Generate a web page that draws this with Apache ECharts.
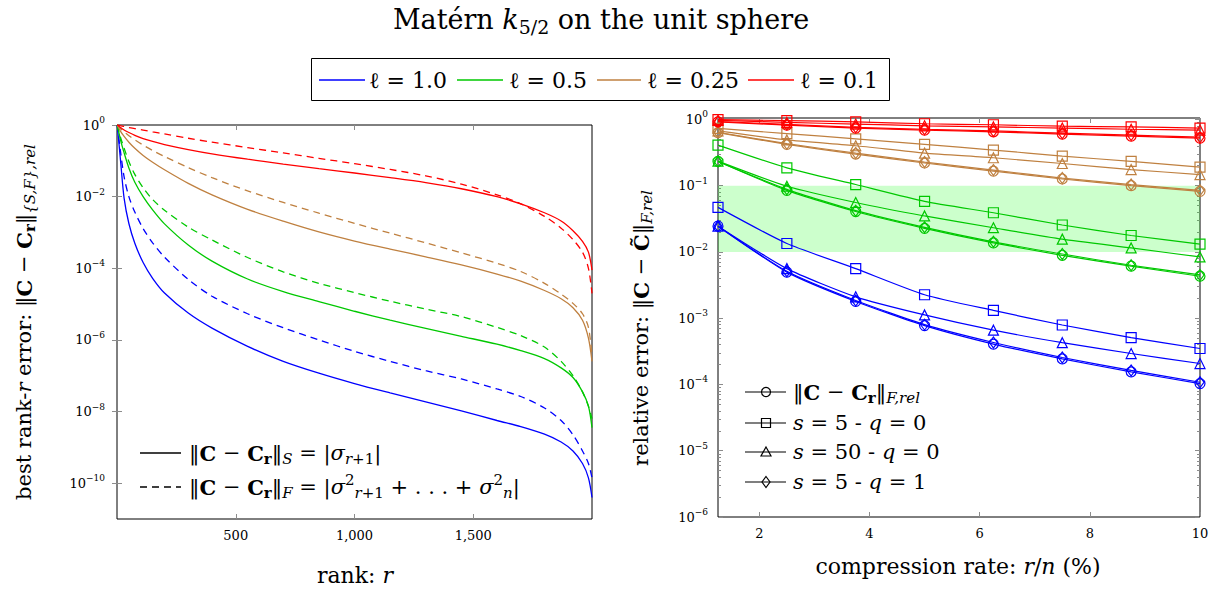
<!DOCTYPE html>
<html><head><meta charset="utf-8">
<script src="https://cdn.jsdelivr.net/npm/echarts@6/dist/echarts.min.js"></script>
<style>html,body{margin:0;padding:0;background:#fff}#c{width:1218px;height:590px}</style>
</head><body><div id="c"></div>
<script>
// ---------- Left panel: best rank-r error (rank r) ----------
const rankR = [1, 15, 30, 50, 75, 110, 150, 200, 300, 400, 550, 700, 850, 1000, 1150, 1300, 1450, 1600, 1700, 1800, 1870, 1920, 1960, 1985, 2000];
const specL10 = [1, 0.1, 8.913e-3, 1.778e-3, 5.012e-4, 1.445e-4, 5.248e-5, 2.042e-5, 5.623e-6, 2.138e-6, 6.607e-7, 2.512e-7, 1.175e-7, 6.026e-8, 3.311e-8, 1.862e-8, 1.047e-8, 5.623e-9, 3.802e-9, 2.344e-9, 1.413e-9, 7.943e-10, 3.548e-10, 1.413e-10, 3.981e-11];
const frobL10 = [1, 0.1778, 3.548e-2, 1e-2, 3.715e-3, 1.288e-3, 5.129e-4, 2.042e-4, 4.898e-5, 1.660e-5, 5.370e-6, 2.188e-6, 1e-6, 4.786e-7, 2.512e-7, 1.380e-7, 8.128e-8, 4.266e-8, 2.630e-8, 1.259e-8, 5.623e-9, 2.239e-9, 7.943e-10, 3.548e-10, 1.413e-10];
const specL05 = [1, 0.3802, 0.1660, 6.310e-2, 2.512e-2, 1e-2, 4.266e-3, 1.738e-3, 4.467e-4, 1.585e-4, 5.012e-5, 2.239e-5, 1.175e-5, 6.310e-6, 3.548e-6, 2.089e-6, 1.259e-6, 7.586e-7, 5.012e-7, 3.020e-7, 1.660e-7, 8.913e-8, 3.548e-8, 1.413e-8, 3.548e-9];
const frobL05 = [1, 0.4467, 0.2239, 9.550e-2, 4.169e-2, 1.778e-2, 8.318e-3, 4.169e-3, 1.413e-3, 6.166e-4, 1.995e-4, 7.943e-5, 3.802e-5, 2.089e-5, 1.202e-5, 7.244e-6, 4.467e-6, 2.239e-6, 1.318e-6, 6.310e-7, 2.512e-7, 1e-7, 3.548e-8, 1.413e-8, 6.310e-9];
const specL025 = [1, 0.6607, 0.4786, 0.3311, 0.2239, 0.1413, 9.120e-2, 5.623e-2, 2.344e-2, 1.122e-2, 4.416e-3, 2.065e-3, 1.035e-3, 5.754e-4, 3.428e-4, 2.089e-4, 1.245e-4, 6.918e-5, 4.365e-5, 2.399e-5, 1.413e-5, 7.943e-6, 3.548e-6, 1.122e-6, 2.512e-7];
const frobL025 = [1, 0.7852, 0.6383, 0.5012, 0.3846, 0.2754, 0.1950, 0.1318, 6.457e-2, 3.388e-2, 1.445e-2, 6.918e-3, 3.467e-3, 1.799e-3, 9.550e-4, 5.129e-4, 2.692e-4, 1.380e-4, 8.128e-5, 3.802e-5, 1.905e-5, 1.047e-5, 5.370e-6, 2.239e-6, 3.548e-7];
const specL01 = [1, 0.8511, 0.7244, 0.6166, 0.5129, 0.4169, 0.3467, 0.2851, 0.2065, 0.1567, 0.1109, 8.128e-2, 6.026e-2, 4.571e-2, 3.388e-2, 2.455e-2, 1.660e-2, 1e-2, 6.310e-3, 3.548e-3, 2.089e-3, 1.122e-3, 5.623e-4, 2.818e-4, 8.913e-5];
const frobL01 = [1, 0.9550, 0.9120, 0.8511, 0.7943, 0.7244, 0.6457, 0.5623, 0.4266, 0.3311, 0.2344, 0.1660, 0.1175, 8.318e-2, 5.754e-2, 3.802e-2, 2.239e-2, 1.122e-2, 6.310e-3, 2.818e-3, 1.318e-3, 6.310e-4, 2.818e-4, 1e-4, 1.995e-5];
const xTicksLeft = [500, 1000, 1500];
const yTicksLeft = [1e-10, 1e-8, 1e-6, 1e-4, 1e-2, 1];

// ---------- Right panel: relative error vs compression rate ----------
const compRate = [1.25, 2.5, 3.75, 5, 6.25, 7.5, 8.75, 10];
const exactL10 = [0.0245, 0.00496, 0.00179, 0.000773, 0.000407, 0.000243, 0.000155, 0.000103];
const s5q0L10  = [0.047, 0.0134, 0.0056, 0.00226, 0.00131, 0.00079, 0.00051, 0.000349];
const s50q0L10 = [0.0245, 0.0056, 0.0021, 0.00112, 0.00066, 0.000427, 0.000293, 0.000207];
const s5q1L10  = [0.0245, 0.0051, 0.00185, 0.0008, 0.00043, 0.000255, 0.000163, 0.000108];
const exactL05 = [0.232, 0.085, 0.0407, 0.0227, 0.0137, 0.0089, 0.0061, 0.0043];
const s5q0L05  = [0.41, 0.186, 0.104, 0.058, 0.039, 0.0255, 0.0177, 0.0131];
const s50q0L05 = [0.235, 0.098, 0.0557, 0.0349, 0.0232, 0.0156, 0.0115, 0.0084];
const s5q1L05  = [0.232, 0.088, 0.042, 0.0235, 0.0142, 0.0093, 0.0063, 0.0045];
const exactL025 = [0.63, 0.42, 0.30, 0.22, 0.166, 0.126, 0.100, 0.082];
const s5q0L025  = [0.73, 0.61, 0.51, 0.42, 0.345, 0.28, 0.232, 0.19];
const s50q0L025 = [0.67, 0.49, 0.40, 0.31, 0.264, 0.216, 0.175, 0.147];
const s5q1L025  = [0.64, 0.43, 0.31, 0.227, 0.172, 0.130, 0.104, 0.085];
const exactL01 = [0.92, 0.82, 0.74, 0.69, 0.65, 0.60, 0.56, 0.52];
const s5q0L01  = [0.99, 0.96, 0.92, 0.86, 0.83, 0.79, 0.77, 0.74];
const s50q0L01 = [0.97, 0.90, 0.85, 0.80, 0.77, 0.74, 0.71, 0.69];
const s5q1L01  = [0.93, 0.84, 0.76, 0.71, 0.67, 0.62, 0.58, 0.54];
const xTicksRight = [2, 4, 6, 8, 10];
const bandRange = [0.01, 0.1];

const legendLabels = ['1.0', '0.5', '0.25', '0.1'];

// ---------- styling ----------
const FONT = "'DejaVu Serif', serif";
const COL = { blue: '#0000ff', green: '#00c800', brown: '#bf8040', red: '#ff0000' };
const TICKC = '#8c8c8c';

function mathRich(fs) {
  const L = Math.round(fs * 1.5);
  const sfs = Math.round(fs * 0.7);
  const base = { fontFamily: FONT, fontSize: fs, lineHeight: L, color: '#000' };
  const sub = { fontFamily: FONT, fontSize: sfs, height: Math.round(fs * 0.95), lineHeight: Math.round(fs * 0.95), verticalAlign: 'bottom', color: '#000' };
  const sup = { fontFamily: FONT, fontSize: sfs, height: Math.round(fs * 0.8), lineHeight: Math.round(fs * 0.8), verticalAlign: 'top', color: '#000' };
  return {
    t: base,
    i: Object.assign({}, base, { fontStyle: 'italic' }),
    b: Object.assign({}, base, { fontWeight: 'bold' }),
    bs: Object.assign({}, sub, { fontWeight: 'bold' }),
    is: Object.assign({}, sub, { fontStyle: 'italic' }),
    ns: sub,
    np: sup
  };
}
const tickRich = {
  b: { fontFamily: FONT, fontSize: 13, lineHeight: 20, color: '#000' },
  s: { fontFamily: FONT, fontSize: 9, height: 10, lineHeight: 10, verticalAlign: 'top', color: '#000' }
};
function powLabel(v) {
  const l = Math.log10(v);
  const e = Math.round(l);
  if (Math.abs(l - e) > 1e-6) return '';
  return '{b|10}{s|' + (e < 0 ? '\u2212' : '') + Math.abs(e) + '}';
}
const mctx = document.createElement('canvas').getContext('2d');
function tw(text, size, style, weight) {
  mctx.font = (style || 'normal') + ' ' + (weight || 'normal') + ' ' + size + 'px ' + FONT;
  return mctx.measureText(text).width;
}

const TICK = { show: true, inside: true, length: 5, lineStyle: { color: TICKC, width: 1 } };

// ---------- series ----------
const leftDefs = [
  [specL10, 'blue', false], [frobL10, 'blue', true],
  [specL05, 'green', false], [frobL05, 'green', true],
  [specL025, 'brown', false], [frobL025, 'brown', true],
  [specL01, 'red', false], [frobL01, 'red', true]
];
const series = [];
leftDefs.forEach(function (d) {
  series.push({
    type: 'line', xAxisIndex: 0, yAxisIndex: 0, silent: true,
    data: rankR.map(function (r, i) { return [r, d[0][i]]; }),
    showSymbol: false, symbol: 'none', smooth: 0.3,
    lineStyle: { color: COL[d[1]], width: 1.3, type: d[2] ? [7, 5] : 'solid' }
  });
});
// green band
series.push({
  type: 'line', xAxisIndex: 2, yAxisIndex: 2, data: [], z: 1, silent: true,
  markArea: { silent: true, itemStyle: { color: 'rgba(0,255,0,0.2)' },
    data: [[{ yAxis: bandRange[0] }, { yAxis: bandRange[1] }]] }
});
const markers = [['circle', 10], ['rect', 10], ['triangle', 10], ['diamond', [8, 11]]];
const rightDefs = [
  ['blue', [exactL10, s5q0L10, s50q0L10, s5q1L10]],
  ['green', [exactL05, s5q0L05, s50q0L05, s5q1L05]],
  ['brown', [exactL025, s5q0L025, s50q0L025, s5q1L025]],
  ['red', [exactL01, s5q0L01, s50q0L01, s5q1L01]]
];
rightDefs.forEach(function (d) {
  d[1].forEach(function (arr, k) {
    series.push({
      type: 'line', xAxisIndex: 2, yAxisIndex: 2, silent: true, z: 3,
      data: compRate.map(function (x, i) { return [x, arr[i]]; }),
      symbol: markers[k][0], symbolSize: markers[k][1], showSymbol: true, smooth: 0.2,
      lineStyle: { color: COL[d[0]], width: 1.2 },
      itemStyle: { color: 'rgba(255,255,255,0)', borderColor: COL[d[0]], borderWidth: 1.2 }
    });
  });
});

// ---------- graphic (titles, legends) ----------
const g = [];
g.push({ type: 'text', x: 601, y: 19, style: { text: '{t|Matérn }{i|k}{ns|5/2}{t| on the unit sphere}', rich: mathRich(27), align: 'center', verticalAlign: 'middle' } });
// top legend
g.push({ type: 'rect', shape: { x: 311.5, y: 58.5, width: 578, height: 42 }, style: { fill: 'none', stroke: '#000', lineWidth: 1 } });
const legLines = [[319, 365, 369], [457, 503, 509], [597, 641, 647], [748, 794, 800]];
['blue', 'green', 'brown', 'red'].forEach(function (c, i) {
  const p = legLines[i];
  g.push({ type: 'line', shape: { x1: p[0], y1: 80, x2: p[1], y2: 80 }, style: { stroke: COL[c], lineWidth: 1.3 } });
  g.push({ type: 'text', x: p[2], y: 80, style: { text: '{t|\u2113 = ' + legendLabels[i] + '}', rich: mathRich(22), align: 'left', verticalAlign: 'middle' } });
});
// left y title (rotated)
(function () {
  const fs = 21, sfs = 15;
  const w1 = tw('best rank-', fs) + tw('r', fs, 'italic') + tw(' error: \u2016', fs) + 2 * tw('C', fs, 'normal', 'bold') + tw(' \u2212 ', fs) + tw('r', sfs, 'normal', 'bold') + tw('\u2016', fs);
  const w2 = tw('{S,F},rel', sfs, 'italic');
  const x0 = -(w1 + w2) / 2;
  g.push({ type: 'group', x: 24, y: 322, rotation: Math.PI / 2, children: [
    { type: 'text', x: x0, y: 0, style: { text: '{t|best rank-}{i|r}{t| error: \u2016}{b|C}{t| \u2212 }{b|C}{bs|r}{t|\u2016}', rich: mathRich(fs), align: 'left', verticalAlign: 'middle' } },
    { type: 'text', x: x0 + w1, y: 6, style: { text: '{S,F},rel', font: 'italic ' + sfs + 'px ' + FONT, fill: '#000', align: 'left', verticalAlign: 'middle' } }
  ] });
})();
// right y title
g.push({ type: 'text', x: 641, y: 328, rotation: Math.PI / 2, style: { text: '{t|relative error: \u2016}{b|C}{t| \u2212 }{b|C\u0303}{t|\u2016}{is|F,rel}', rich: mathRich(21), align: 'center', verticalAlign: 'middle' } });
// x titles
g.push({ type: 'text', x: 355, y: 575, style: { text: '{t|rank: }{i|r}', rich: mathRich(22), align: 'center', verticalAlign: 'middle' } });
g.push({ type: 'text', x: 958, y: 566, style: { text: '{t|compression rate: }{i|r}{t|/}{i|n}{t| (%)}', rich: mathRich(22), align: 'center', verticalAlign: 'middle' } });
// left inner legend
g.push({ type: 'line', shape: { x1: 140, y1: 453, x2: 181, y2: 453 }, style: { stroke: '#000', lineWidth: 1.3 } });
g.push({ type: 'line', shape: { x1: 140, y1: 487, x2: 181, y2: 487 }, style: { stroke: '#000', lineWidth: 1.3, lineDash: [7, 5] } });
g.push({ type: 'text', x: 189, y: 453, style: { text: '{t|\u2016}{b|C}{t| \u2212 }{b|C}{bs|r}{t|\u2016}{is|S}{t| = |}{i|\u03c3}{is|r}{ns|+1}{t||}', rich: mathRich(21), align: 'left', verticalAlign: 'middle' } });
g.push({ type: 'text', x: 189, y: 487, style: { text: '{t|\u2016}{b|C}{t| \u2212 }{b|C}{bs|r}{t|\u2016}{is|F}{t| = |}{i|\u03c3}{np|2}{is|r}{ns|+1}{t| + . . . + }{i|\u03c3}{np|2}{is|n}{t||}', rich: mathRich(21), align: 'left', verticalAlign: 'middle' } });
// right inner legend
const rlY = [392, 423, 452, 482];
const rlText = [
  '{t|\u2016}{b|C}{t| \u2212 }{b|C}{bs|r}{t|\u2016}{is|F,rel}',
  '{i|s}{t| = 5 - }{i|q}{t| = 0}',
  '{i|s}{t| = 50 - }{i|q}{t| = 0}',
  '{i|s}{t| = 5 - }{i|q}{t| = 1}'
];
rlY.forEach(function (y, k) {
  g.push({ type: 'line', shape: { x1: 745, y1: y, x2: 786, y2: y }, style: { stroke: '#000', lineWidth: 1.2 } });
  const ms = { fill: 'none', stroke: '#000', lineWidth: 1.2 };
  if (k === 0) g.push({ type: 'circle', shape: { cx: 766, cy: y, r: 4.5 }, style: ms });
  if (k === 1) g.push({ type: 'rect', shape: { x: 761.5, y: y - 4.5, width: 9, height: 9 }, style: ms });
  if (k === 2) g.push({ type: 'polygon', shape: { points: [[766, y - 5], [771, y + 4], [761, y + 4]] }, style: ms });
  if (k === 3) g.push({ type: 'polygon', shape: { points: [[766, y - 5.5], [770, y], [766, y + 5.5], [762, y]] }, style: ms });
  g.push({ type: 'text', x: 793, y: y, style: { text: rlText[k], rich: mathRich(21), align: 'left', verticalAlign: 'middle' } });
});

const labelBase = { color: '#000', fontFamily: FONT, fontSize: 13 };
const option = {
  animation: false,
  backgroundColor: '#fff',
  grid: [
    { left: 117, top: 125, width: 475, height: 394, show: true, borderColor: '#000', borderWidth: 1, backgroundColor: 'transparent' },
    { left: 718, top: 118, width: 482, height: 399, show: true, borderColor: '#000', borderWidth: 1, backgroundColor: 'transparent' }
  ],
  xAxis: [
    { gridIndex: 0, type: 'value', min: 0, max: 2000, position: 'bottom', axisLine: { show: false }, splitLine: { show: false },
      axisTick: Object.assign({}, TICK, { customValues: xTicksLeft }),
      axisLabel: Object.assign({}, labelBase, { margin: 10, customValues: xTicksLeft, formatter: function (v) { return v.toLocaleString('en-US'); } }) },
    { gridIndex: 0, type: 'value', min: 0, max: 2000, position: 'top', axisLine: { show: false }, splitLine: { show: false },
      axisTick: Object.assign({}, TICK, { customValues: xTicksLeft }), axisLabel: { show: false } },
    { gridIndex: 1, type: 'value', min: 1.25, max: 10, position: 'bottom', axisLine: { show: false }, splitLine: { show: false },
      axisTick: Object.assign({}, TICK, { customValues: xTicksRight }),
      axisLabel: Object.assign({}, labelBase, { margin: 10, customValues: xTicksRight }) },
    { gridIndex: 1, type: 'value', min: 1.25, max: 10, position: 'top', axisLine: { show: false }, splitLine: { show: false },
      axisTick: Object.assign({}, TICK, { customValues: xTicksRight }), axisLabel: { show: false } }
  ],
  yAxis: [
    { gridIndex: 0, type: 'log', min: 1e-11, max: 1, position: 'left', axisLine: { show: false }, splitLine: { show: false },
      axisTick: Object.assign({}, TICK, { customValues: yTicksLeft }),
      axisLabel: { margin: 12, customValues: yTicksLeft, formatter: powLabel, rich: tickRich } },
    { gridIndex: 0, type: 'log', min: 1e-11, max: 1, position: 'right', axisLine: { show: false }, splitLine: { show: false },
      axisTick: Object.assign({}, TICK, { customValues: yTicksLeft }), axisLabel: { show: false } },
    { gridIndex: 1, type: 'log', min: 1e-6, max: 1.05, position: 'left', axisLine: { show: false }, splitLine: { show: false },
      axisTick: TICK, minorTick: { show: true, splitNumber: 9, length: 3, lineStyle: { color: TICKC, width: 1 } },
      axisLabel: { margin: 10, formatter: powLabel, rich: tickRich } },
    { gridIndex: 1, type: 'log', min: 1e-6, max: 1.05, position: 'right', axisLine: { show: false }, splitLine: { show: false },
      axisTick: TICK, minorTick: { show: true, splitNumber: 9, length: 3, lineStyle: { color: TICKC, width: 1 } },
      axisLabel: { show: false } }
  ],
  series: series,
  graphic: g
};
const chart = echarts.init(document.getElementById('c'), null, { renderer: 'svg' });
chart.setOption(option);
</script>
</body></html>
